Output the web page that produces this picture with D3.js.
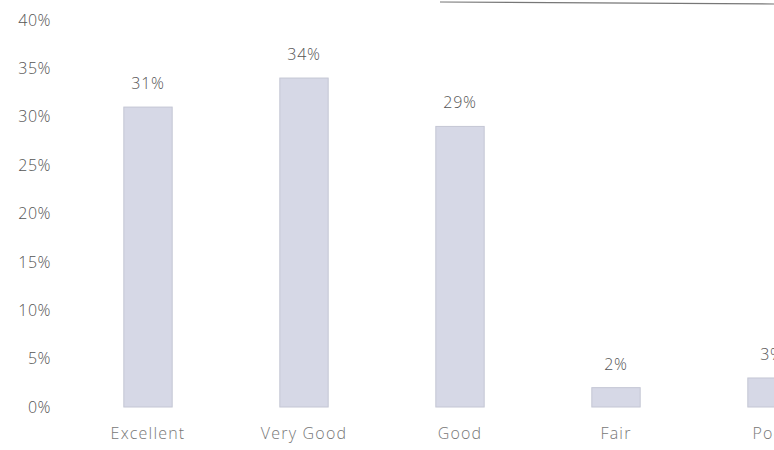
<!DOCTYPE html>
<html><head><meta charset="utf-8">
<script src="https://cdn.jsdelivr.net/npm/d3@7/dist/d3.min.js"></script>
<style>
body{margin:0;background:#fff;}
text{font-family:"Open Sans","Liberation Sans",sans-serif;font-weight:300;}
</style></head>
<body><svg id="c" width="774" height="450"></svg>
<script>
const categories = ["Excellent","Very Good","Good","Fair","Poor"];
const values = [31,34,29,2,3];
const yTicks = [0,5,10,15,20,25,30,35,40];

const svg = d3.select("#c");
const x = d3.scaleBand().domain(categories).range([70,850]).paddingInner(0.69).paddingOuter(0.345);
const y = d3.scaleLinear().domain([0,40]).range([407,20]);

// faint frame line at top right (photo edge)
svg.append("line").attr("x1",440).attr("x2",774).attr("y1",2).attr("y2",4)
  .attr("stroke","#777").attr("stroke-width",1.2);

const yAxis = d3.axisLeft(y).tickValues(yTicks).tickFormat(d=>d+"%").tickSize(0).tickPadding(0);
const gy = svg.append("g").attr("transform","translate(51,0)").call(yAxis);
gy.select(".domain").remove();
gy.selectAll("text").attr("font-size",16).attr("fill","#555").attr("letter-spacing",0.5)
  .attr("font-family","'Open Sans',sans-serif");

const xAxis = d3.axisBottom(x).tickSize(0).tickPadding(0);
const gx = svg.append("g").attr("transform","translate(0,428)").call(xAxis);
gx.select(".domain").remove();
gx.selectAll("text").attr("font-size",16).attr("fill","#777").attr("letter-spacing",1.2)
  .attr("font-family","'Open Sans',sans-serif");

svg.selectAll("rect.bar").data(values).join("rect").attr("class","bar")
  .attr("x",(d,i)=>x(categories[i])).attr("width",x.bandwidth())
  .attr("y",d=>y(d)).attr("height",d=>y(0)-y(d))
  .attr("fill","#d6d8e6").attr("stroke","#c4c6d4").attr("stroke-width",1);

svg.selectAll("text.val").data(values).join("text").attr("class","val")
  .attr("x",(d,i)=>x(categories[i])+x.bandwidth()/2).attr("y",d=>y(d)-18)
  .attr("text-anchor","middle").attr("font-size",16).attr("fill","#555").attr("letter-spacing",0.8)
  .text(d=>d+"%");
</script></body></html>
